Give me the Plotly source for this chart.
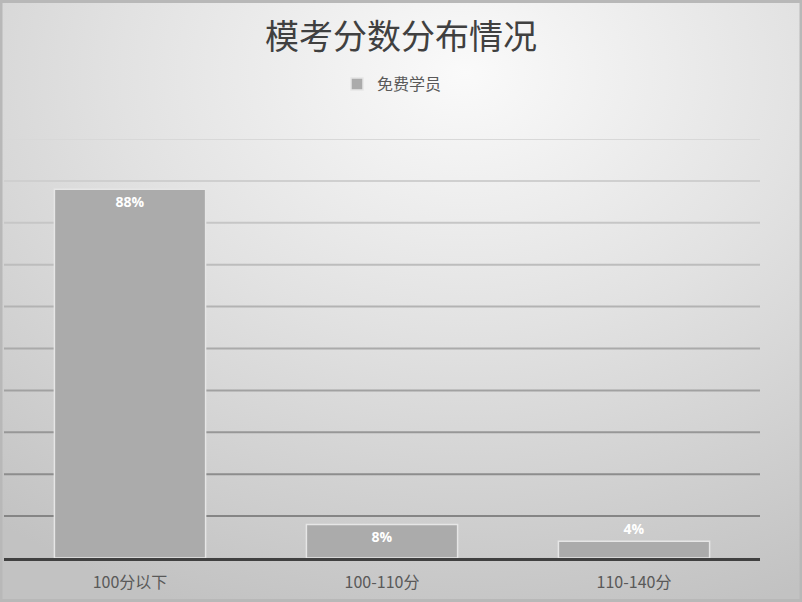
import base64
import plotly.graph_objects as go

categories = ["100分以下", "100-110分", "110-140分"]
shares = [0.88, 0.08, 0.04]
share_labels = ["88%", "8%", "4%"]
label_positions = ["inside", "inside", "outside"]
series_name = "免费学员"
title_text = "模考分数分布情况"

grid_values = [0.1, 0.2, 0.3, 0.4, 0.5, 0.6, 0.7, 0.8, 0.9, 1.0]
grid_colors = ["#858585", "#8d8d8d", "#979797", "#a1a1a1", "#aaaaaa",
               "#b3b3b3", "#bdbdbd", "#c6c6c6", "#cfcfcf", "#d8d8d8"]

W, H = 802, 602
ml, mr, mt, mb = 4, 42, 139, 44
pw, ph = W - ml - mr, H - mt - mb

cjk = "Noto Sans CJK SC, sans-serif"

# radial grey background, drawn as an svg picture behind the plot
svg = (
    f'<svg xmlns="http://www.w3.org/2000/svg" width="{W}" height="{H}">'
    '<defs><radialGradient id="g" cx="0.58" cy="0.12" r="0.95">'
    '<stop offset="0" stop-color="#fafafa"/>'
    '<stop offset="0.45" stop-color="#e2e2e2"/>'
    '<stop offset="1" stop-color="#c2c2c2"/>'
    '</radialGradient></defs>'
    f'<rect width="{W}" height="{H}" fill="url(#g)"/>'
    f'<rect x="1" y="1.5" width="{W - 2}" height="{H - 3}" fill="none" stroke="#b8b8b8" stroke-width="3"/>'
    '</svg>'
)
bg_src = "data:image/svg+xml;base64," + base64.b64encode(svg.encode()).decode()

fig = go.Figure(
    go.Bar(
        x=categories,
        y=shares,
        name=series_name,
        text=share_labels,
        textposition=label_positions,
        insidetextanchor="end",
        constraintext="none",
        cliponaxis=False,
        textfont=dict(color="white", size=14, family="Open Sans", weight="bold"),
        marker=dict(color="#ababab", line=dict(color="#e6e6e6", width=1.5)),
        showlegend=True,
    )
)

for v, c in zip(grid_values, grid_colors):
    fig.add_shape(type="line", xref="paper", yref="y", x0=0, x1=1, y0=v, y1=v,
                  line=dict(color=c, width=2), layer="below")

fig.add_layout_image(
    source=bg_src, xref="paper", yref="paper",
    x=-ml / pw, y=1 + mt / ph, sizex=W / pw, sizey=H / ph,
    xanchor="left", yanchor="top", sizing="stretch", layer="below",
)

fig.update_layout(
    width=W, height=H,
    margin=dict(l=ml, r=mr, t=mt, b=mb, autoexpand=False),
    paper_bgcolor="rgba(0,0,0,0)",
    plot_bgcolor="rgba(0,0,0,0)",
    bargap=0.4,
    title=dict(text=title_text, x=0.5, xref="container", xanchor="center",
               y=1 - 37 / H, yref="container", yanchor="middle",
               font=dict(family=cjk, size=34, color="#404040")),
    legend=dict(orientation="h", x=(W / 2 - 9 - ml) / pw, xanchor="center",
                y=(H - mb - 84) / ph, yanchor="middle",
                font=dict(family=cjk, size=16, color="#595959"),
                bgcolor="rgba(0,0,0,0)", itemwidth=30),
    xaxis=dict(showline=True, linecolor="#404040", linewidth=3, ticks="",
               ticklabelstandoff=8,
               tickfont=dict(family=cjk, size=16, color="#595959"),
               showgrid=False, layer="above traces"),
    yaxis=dict(range=[0, 1.0], showticklabels=False, showgrid=False,
               zeroline=False, showline=False, fixedrange=True),
)

# the page body has a default 8px margin; drop it so the chart fills the window
fig.write_html("out.html", config={"displayModeBar": False},
               post_script="document.body.style.margin='0';")
